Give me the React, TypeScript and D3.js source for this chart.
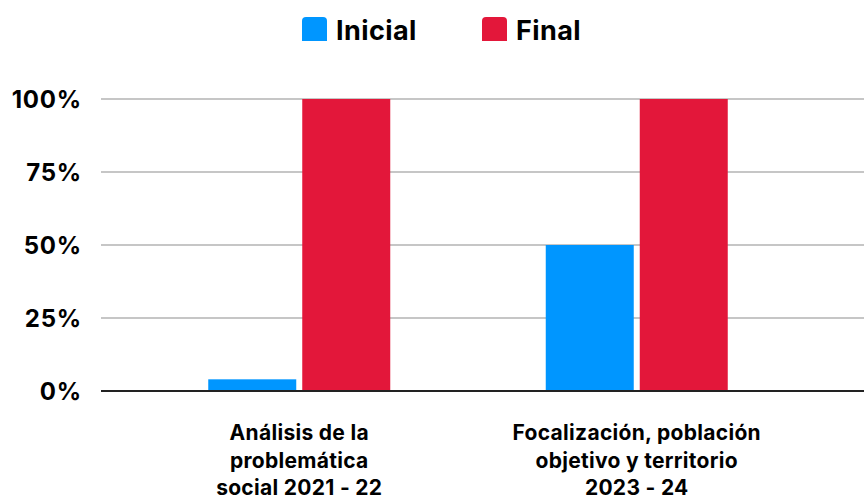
import React from "react";
import * as d3 from "d3";

const categories = [
  ["Análisis de la", "problemática", "social 2021 - 22"],
  ["Focalización, población", "objetivo y territorio", "2023 - 24"],
];
const seriesNames = ["Inicial", "Final"];
const inicial = [0.04, 0.5];
const final = [1.0, 1.0];
const tickValues = [0, 0.25, 0.5, 0.75, 1];
const colors = ["#0096FF", "#E3173A"];

const W = 864;
const H = 497;
const FONT = "Inter, 'Open Sans', sans-serif";

export default function App() {
  const plotLeft = 101;
  const plotRight = 864;
  const y = d3.scaleLinear().domain([0, 1]).range([391, 99]);
  const x = d3
    .scaleBand<number>()
    .domain(categories.map((_, i) => i))
    .range([130.5, 805.5])
    .padding(0);
  const barW = 88;
  const gap = 6;
  const series = [inicial, final];
  const fmt = d3.format(".0%");

  return (
    <svg width={W} height={H} style={{ position: "absolute", left: 0, top: 0, background: "#fff" }}>
      {/* legend */}
      {seriesNames.map((name, i) => {
        const lx = [302, 482][i];
        return (
          <g key={name}>
            <path
              d={`M${lx},41 L${lx},21 Q${lx},17 ${lx + 4},17 L${lx + 21},17 Q${lx + 25},17 ${lx + 25},21 L${lx + 25},41 Z`}
              fill={colors[i]}
            />
            <text x={lx + 34} y={40} fontFamily={FONT} fontWeight={700} fontSize={27} letterSpacing={0.4} fill="#000">
              {name}
            </text>
          </g>
        );
      })}
      {/* gridlines */}
      {tickValues.map((t) => (
        <g key={t}>
          {t > 0 && (
            <line x1={plotLeft} x2={plotRight} y1={y(t)} y2={y(t)} stroke="#b3b3b3" strokeWidth={1.5} />
          )}
          <text
            x={82}
            y={y(t) + 9}
            textAnchor="end"
            fontFamily={FONT}
            fontWeight={700}
            fontSize={24}
            letterSpacing={0.8}
            fill="#000"
          >
            {fmt(t)}
          </text>
        </g>
      ))}
      {/* bars */}
      {categories.map((_, ci) => {
        const cx = x(ci)! + x.bandwidth() / 2;
        return series.map((s, si) => {
          const bx = si === 0 ? cx - gap / 2 - barW : cx + gap / 2;
          return (
            <rect
              key={`${ci}-${si}`}
              x={bx}
              y={y(s[ci])}
              width={barW}
              height={y(0) - y(s[ci])}
              fill={colors[si]}
            />
          );
        });
      })}
      {/* axis line */}
      <line x1={plotLeft} x2={plotRight} y1={y(0)} y2={y(0)} stroke="#222" strokeWidth={2} />
      {/* category labels */}
      {categories.map((lines, ci) => {
        const cx = x(ci)! + x.bandwidth() / 2;
        return (
          <text
            key={ci}
            textAnchor="middle"
            fontFamily={FONT}
            fontWeight={700}
            fontSize={21}
            letterSpacing={0.3}
            fill="#000"
          >
            {lines.map((l, li) => (
              <tspan key={li} x={cx} y={440 + li * 27.5}>
                {l}
              </tspan>
            ))}
          </text>
        );
      })}
    </svg>
  );
}
